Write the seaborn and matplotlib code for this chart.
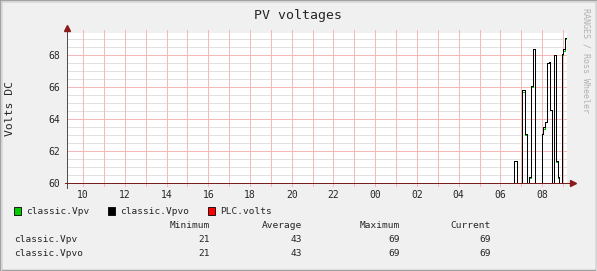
import matplotlib
matplotlib.use("Agg")
import matplotlib.pyplot as plt
import seaborn as sns
import pandas as pd
from matplotlib.patches import Rectangle

# ---- data (hours since midnight of first day; values in volts) ----
times = [9.2, 17.5, 20.0, 27.5, 30.0, 30.667, 30.78, 31.05, 31.16, 31.26,
         31.385, 31.48, 31.576, 31.67, 32.01, 32.06, 32.15, 32.25, 32.31,
         32.39, 32.49, 32.58, 32.65, 32.74, 32.82, 32.93, 33.01, 33.09, 33.19]
vpvo = [45, 28, 21, 24, 48, 61.4, 55, 65.8, 63.1, 57,
        60.4, 66.1, 68.4, 58, 63.1, 63.5, 63.8, 67.5, 67.6,
        64.6, 57, 68.0, 61.4, 60.4, 57, 68.1, 68.4, 69.1, 69.1]
vpv = [45, 28, 21, 24, 48, 61.4, 55, 65.7, 63.0, 57,
       60.3, 66.0, 68.4, 58, 63.1, 63.4, 63.8, 67.5, 67.5,
       64.6, 57, 68.0, 61.3, 60.3, 57, 68.0, 68.3, 69.0, 69.0]
hour_ticks = [10, 12, 14, 16, 18, 20, 22, 24, 26, 28, 30, 32]
hour_labels = ["10", "12", "14", "16", "18", "20", "22", "00", "02", "04", "06", "08"]
y_ticks = [60, 62, 64, 66, 68]
legend_names = ["classic.Vpv", "classic.Vpvo", "PLC.volts"]
legend_colors = ["#00cc00", "#000000", "#ff0000"]
stat_headers = ["Minimum", "Average", "Maximum", "Current"]
stat_rows = {"classic.Vpv": ["21", "43", "69", "69"],
             "classic.Vpvo": ["21", "43", "69", "69"]}

df_vpv = pd.DataFrame({"t": times, "v": vpv})
df_vpvo = pd.DataFrame({"t": times, "v": vpvo})

sns.set_style("white")
plt.rcParams["font.family"] = ["DejaVu Sans Mono", "DejaVu Sans"]
plt.rcParams["axes.grid"] = False

W, H = 597, 271
fig = plt.figure(figsize=(W / 100, H / 100), dpi=100, facecolor="#f0f0f0")
ax = fig.add_axes([67 / W, 88 / H, 500 / W, 150 / H])
ax.set_facecolor("white")
ax.grid(False)

XMIN, XMAX, YMIN, YMAX = 9.23, 33.19, 60, 69.4
PX = 0.72  # one pixel in points

# grid (drawn manually for exact styling)
for i in range(int(YMIN * 2), int(YMAX * 2) + 1):
    yv = i / 2
    if yv % 2 == 0:
        continue
    ax.axhline(yv, color="#e0e0e0", lw=PX, zorder=0.5, antialiased=False)
for yv in y_ticks[1:]:
    ax.axhline(yv, color="#f4b8b8", lw=PX, zorder=0.6, antialiased=False)
for h in range(10, 34):
    ax.plot([h, h], [-0.02, 1.02], transform=ax.get_xaxis_transform(), clip_on=False,
            color="#f4b8b8", lw=PX, zorder=0.6, antialiased=False)

sns.lineplot(data=df_vpv, x="t", y="v", estimator=None, sort=False, color="#00cc00",
             drawstyle="steps-post", linewidth=PX, ax=ax, zorder=2, antialiased=False)
sns.lineplot(data=df_vpvo, x="t", y="v", estimator=None, sort=False, color="#000000",
             drawstyle="steps-post", linewidth=PX, ax=ax, zorder=3, antialiased=False)

ax.set_xlim(XMIN, XMAX)
ax.set_ylim(YMIN, YMAX)
ax.set_xticks(hour_ticks)
ax.set_xticklabels(hour_labels)
ax.set_yticks(y_ticks)
ax.tick_params(axis="x", length=0, labelsize=7, pad=5)
ax.tick_params(axis="y", length=3, color="#505050", width=PX, labelsize=7, pad=2)
ax.set_xlabel("")
ax.set_ylabel("Volts DC", fontsize=8.2)
ax.yaxis.set_label_coords(-0.104, 0.5)

for s in ["top", "right", "left", "bottom"]:
    ax.spines[s].set_visible(False)
# axes with arrows
ax.plot([0, 0], [-0.035, 1.03], transform=ax.transAxes, clip_on=False, color="#505050",
        lw=PX, zorder=4, antialiased=False)
ax.plot([-0.004, 1.01], [0, 0], transform=ax.transAxes, clip_on=False, color="#7a1f1f",
        lw=PX, zorder=4, antialiased=False)
ax.plot(0, 1.035, marker="^", ms=4, color="#8b1a1a", transform=ax.transAxes, clip_on=False, zorder=5)
ax.plot(1.012, 0, marker=">", ms=4, color="#8b1a1a", transform=ax.transAxes, clip_on=False, zorder=5)

# title and side credit
fig.text(298 / W, 1 - 16 / H, "PV voltages", ha="center", va="center", fontsize=9.5)
fig.text(586 / W, 1 - 8 / H, "RANGES / Ross Wheeler", rotation=-90, ha="center", va="top",
         fontsize=6, color="#b0b0b0")

# legend
lx = [14, 108, 208]
for x0, name, col in zip(lx, legend_names, legend_colors):
    fig.patches.append(Rectangle((x0 / W, 1 - 215 / H), 7 / W, 8 / H, transform=fig.transFigure,
                                 facecolor=col, edgecolor="#000000", lw=0.6))
    fig.text((x0 + 12) / W, 1 - 211 / H, name, ha="left", va="center", fontsize=6.8)

# stats table
col_right = [209.5, 302, 399.5, 491]
for xr, h in zip(col_right, stat_headers):
    fig.text(xr / W, 1 - 225 / H, h, ha="right", va="center", fontsize=6.8)
for yy, (name, vals) in zip([239, 253], stat_rows.items()):
    fig.text(14.5 / W, 1 - yy / H, name, ha="left", va="center", fontsize=6.8)
    for xr, v in zip(col_right, vals):
        fig.text(xr / W, 1 - yy / H, v, ha="right", va="center", fontsize=6.8)

# frame
fig.patches.append(Rectangle((0, 0), 1, 1, transform=fig.transFigure, fill=False,
                             edgecolor="#a0a0a0", lw=2.5))
fig.patches.append(Rectangle((0.5 / W, 0.5 / H), 1 - 1.5 / W, 1 - 1.5 / H,
                             transform=fig.transFigure, fill=False, edgecolor="#d4d4d4", lw=0.8))

fig.savefig("out.png", dpi=100, facecolor=fig.get_facecolor())
